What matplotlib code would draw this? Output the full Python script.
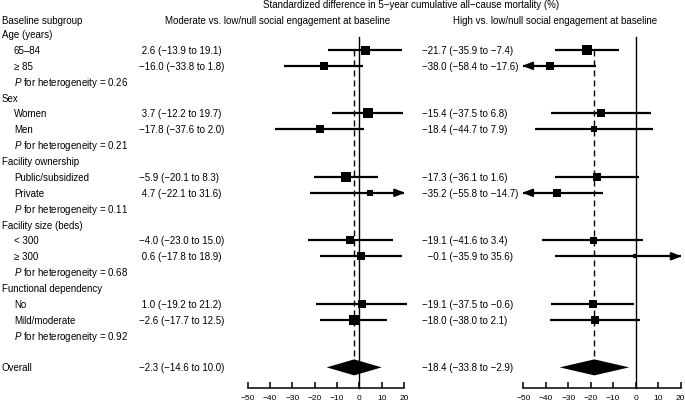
import matplotlib
matplotlib.use('Agg')
import matplotlib.pyplot as plt

plt.rcParams['font.family'] = ['Liberation Sans', 'DejaVu Sans']
plt.rcParams['mathtext.fontset'] = 'custom'
plt.rcParams['mathtext.rm'] = 'Liberation Sans'
plt.rcParams['mathtext.it'] = 'Liberation Sans:italic'

# ── data ────────────────────────────────────────────────────────────────────
categories = ['Age (years)', 'Sex', 'Facility ownership',
              'Facility size (beds)', 'Functional dependency']
subgroups = [['65–84', '≥ 85'], ['Women', 'Men'],
             ['Public/subsidized', 'Private'], ['< 300', '≥ 300'],
             ['No', 'Mild/moderate']]
p_het = ['0.26', '0.21', '0.11', '0.68', '0.92']

mod_est = [2.6, -16.0, 3.7, -17.8, -5.9, 4.7, -4.0, 0.6, 1.0, -2.6]
mod_lo = [-13.9, -33.8, -12.2, -37.6, -20.1, -22.1, -23.0, -17.8, -19.2, -17.7]
mod_hi = [19.1, 1.8, 19.7, 2.0, 8.3, 31.6, 15.0, 18.9, 21.2, 12.5]
mod_overall = [-2.3, -14.6, 10.0]

high_est = [-21.7, -38.0, -15.4, -18.4, -17.3, -35.2, -19.1, -0.1, -19.1, -18.0]
high_lo = [-35.9, -58.4, -37.5, -44.7, -36.1, -55.8, -41.6, -35.9, -37.5, -38.0]
high_hi = [-7.4, -17.6, 6.8, 7.9, 1.6, -14.7, 3.4, 35.6, -0.6, 2.1]
high_overall = [-18.4, -33.8, -2.9]

# box sizes (relative weights, px)
mod_box = [9, 8.7, 9.3, 8.3, 10.7, 6, 7.7, 8.7, 7.3, 10.7]
high_box = [10, 7.7, 7.3, 6, 7.3, 8, 7, 4.5, 8, 7.3]

xticks = [-50, -40, -30, -20, -10, 0, 10, 20]
XMIN, XMAX = -50, 20
SLACK = 5   # CI may run this far past the axis before it becomes an arrow

# ── layout (pixels) ─────────────────────────────────────────────────────────
W, H = 685, 406
Y0, DY = 35.1, 15.87
AXIS_Y = 389
FS = 7


def row_y(i):
    return Y0 + i * DY


def fmt(v):
    return f'{v:.1f}'.replace('-', '−')


fig = plt.figure(figsize=(W / 100, H / 100), dpi=100)
fig.patch.set_facecolor('white')

# text layer in pixel coordinates
tx = fig.add_axes([0, 0, 1, 1])
tx.set_xlim(0, W)
tx.set_ylim(H, 0)
tx.axis('off')

tx.text(411, 5.5, 'Standardized difference in 5−year cumulative all−cause mortality (%)',
        ha='center', va='center', fontsize=FS)
tx.text(2, 20.5, 'Baseline subgroup', ha='left', va='center', fontsize=FS)
tx.text(277.5, 20.5, 'Moderate vs. low/null social engagement at baseline',
        ha='center', va='center', fontsize=FS)
tx.text(555.5, 20.5, 'High vs. low/null social engagement at baseline',
        ha='center', va='center', fontsize=FS)

# rows: category, 2 subgroups, P-het
item_rows = []
r = 0
for cat, subs, p in zip(categories, subgroups, p_het):
    tx.text(2, row_y(r), cat, ha='left', va='center', fontsize=FS)
    for s in subs:
        r += 1
        tx.text(14, row_y(r), s, ha='left', va='center', fontsize=FS)
        item_rows.append(r)
    r += 1
    tx.text(14, row_y(r), r'$P$ for heterogeneity = ' + p,
            ha='left', va='center', fontsize=FS)
    r += 1
overall_row = r + 1
tx.text(2, row_y(overall_row), 'Overall', ha='left', va='center', fontsize=FS)

ARROW = dict(arrowstyle='-|>,head_length=0.55,head_width=0.22',
             lw=1.6, color='black', shrinkA=0, shrinkB=0)


def panel(left_px, right_px, est, lo, hi, box, overall, text_x, pad_rule):
    ax = fig.add_axes([left_px / W, (H - AXIS_Y) / H,
                       (right_px - left_px) / W, AXIS_Y / H])
    ax.set_xlim(XMIN, XMAX)
    ax.set_ylim(AXIS_Y, 0)
    ax.patch.set_alpha(0)
    for s in ['top', 'left', 'right']:
        ax.spines[s].set_visible(False)
    ax.spines['bottom'].set_linewidth(1.1)
    ax.set_yticks([])
    ax.set_xticks(xticks)
    ax.set_xticklabels([fmt(t).replace('.0', '') for t in xticks], fontsize=6)
    ax.tick_params(axis='x', direction='in', length=4, width=1.1, pad=4)

    # zero line and overall dashed line
    ax.plot([0, 0], [38, AXIS_Y], color='black', lw=1.0, clip_on=False)
    oy = row_y(overall_row)
    ax.plot([overall[0], overall[0]], [row_y(1), oy - 8], color='black',
            lw=1.0, dashes=(4.3, 2.9))

    for e, l, h, b, rr in zip(est, lo, hi, box, item_rows):
        y = row_y(rr)
        arrow_r = h > XMAX + SLACK
        arrow_l = l < XMIN - SLACK
        x0 = XMIN if arrow_l else l
        x1 = XMAX if arrow_r else h
        ax.plot([x0, x1], [y, y], color='black', lw=1.6, solid_capstyle='butt',
                clip_on=False)
        if arrow_r:
            ax.annotate('', xy=(XMAX + 0.4, y), xytext=(XMAX - 4, y),
                        arrowprops=ARROW, annotation_clip=False)
        if arrow_l:
            ax.annotate('', xy=(XMIN - 0.4, y), xytext=(XMIN + 4, y),
                        arrowprops=ARROW, annotation_clip=False)
        ax.plot([e], [y], marker='s', color='black', markersize=b * 0.72,
                markeredgewidth=0)
        tx.text(text_x, y, pad_rule(e) + f'{fmt(e)} ({fmt(l)} to {fmt(h)})',
                ha='left', va='center', fontsize=FS)

    e, l, h = overall
    ax.fill([l, e, h, e], [oy, oy - 8, oy, oy + 8], color='black', lw=0)
    tx.text(text_x, oy, pad_rule(e) + f'{fmt(e)} ({fmt(l)} to {fmt(h)})',
            ha='left', va='center', fontsize=FS)
    return ax


panel(247.6, 404.0, mod_est, mod_lo, mod_hi, mod_box, mod_overall, 139.5,
      lambda v: ' ' if v >= 0 else '')
panel(523.3, 680.6, high_est, high_lo, high_hi, high_box, high_overall, 422,
      lambda v: '  ' if abs(v) < 10 else '')

plt.savefig('out.png', dpi=100, facecolor='white')
plt.close()
